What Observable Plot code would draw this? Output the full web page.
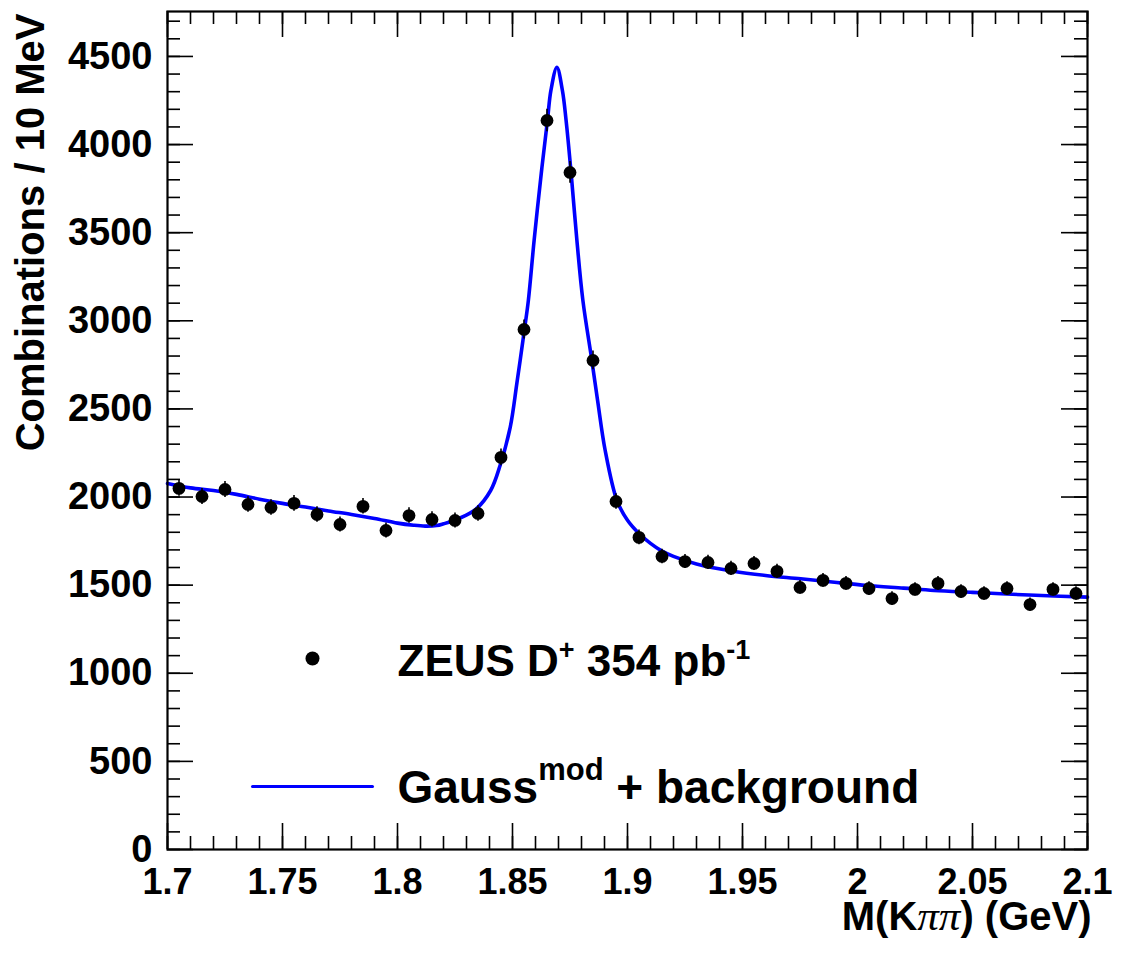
<!DOCTYPE html>
<html>
<head>
<meta charset="utf-8">
<script src="https://cdn.jsdelivr.net/npm/d3@7"></script>
<script src="https://cdn.jsdelivr.net/npm/@observablehq/plot@0.6"></script>
<style>
  html, body { margin: 0; padding: 0; background: #fff; }
  #chart { width: 1126px; height: 960px; }
</style>
</head>
<body>
<div id="chart"></div>
<script>
// ---- data ----
const binCenters = [1.705, 1.715, 1.725, 1.735, 1.745, 1.755, 1.765, 1.775, 1.785, 1.795,
                    1.805, 1.815, 1.825, 1.835, 1.845, 1.855, 1.865, 1.875, 1.885, 1.895,
                    1.905, 1.915, 1.925, 1.935, 1.945, 1.955, 1.965, 1.975, 1.985, 1.995,
                    2.005, 2.015, 2.025, 2.035, 2.045, 2.055, 2.065, 2.075, 2.085, 2.095];
const counts = [2049, 2003, 2043, 1958, 1941, 1964, 1901, 1844, 1947, 1810,
                1895, 1873, 1867, 1907, 2225, 2951, 4137, 3842, 2775, 1975,
                1771, 1663, 1634, 1629, 1595, 1623, 1578, 1487, 1527, 1510,
                1481, 1424, 1476, 1510, 1464, 1453, 1481, 1390, 1476, 1453];
const errors = [45, 45, 45, 44, 44, 44, 44, 43, 44, 43,
                44, 43, 43, 44, 47, 54, 64, 62, 53, 44,
                42, 41, 40, 40, 40, 40, 40, 39, 39, 39,
                38, 38, 38, 39, 38, 38, 38, 37, 38, 38];
const fitMass = [1.700, 1.710, 1.720, 1.730, 1.740, 1.750, 1.760, 1.770, 1.780, 1.790,
                 1.800, 1.807, 1.812, 1.817, 1.820, 1.8267, 1.834, 1.8405, 1.8446, 1.849,
                 1.8519, 1.8552, 1.8569, 1.8594, 1.8625, 1.8652, 1.8667, 1.8693, 1.8717, 1.8733,
                 1.8755, 1.878, 1.8806, 1.8845, 1.887, 1.8903, 1.8954, 1.900, 1.905, 1.910,
                 1.915, 1.920, 1.930, 1.946, 1.960, 1.9753, 1.990, 2.0043, 2.020, 2.0333,
                 2.050, 2.0624, 2.080, 2.100];
const fitCounts = [2077, 2052, 2037, 2015, 1988, 1964, 1943, 1921, 1901, 1878,
                   1852, 1840, 1835, 1838, 1848, 1878, 1930, 2037, 2179, 2395,
                   2645, 2951, 3116, 3456, 3836, 4137, 4307, 4438, 4307, 4137,
                   3836, 3456, 3116, 2775, 2548, 2264, 1981, 1868, 1793, 1737,
                   1693, 1663, 1620, 1579, 1555, 1536, 1516, 1498, 1483, 1470,
                   1459, 1451, 1441, 1432];
const xMajorTicks = [1.7, 1.75, 1.8, 1.85, 1.9, 1.95, 2.0, 2.05, 2.1];
const xTickLabels = ["1.7", "1.75", "1.8", "1.85", "1.9", "1.95", "2", "2.05", "2.1"];
const yMajorTicks = [0, 500, 1000, 1500, 2000, 2500, 3000, 3500, 4000, 4500];
const yTickLabels = ["0", "500", "1000", "1500", "2000", "2500", "3000", "3500", "4000", "4500"];
const xMinorTicks = d3.range(0, 41).map(i => +(1.7 + i * 0.01).toFixed(2));
const yMinorTicks = d3.range(0, 48).map(i => i * 100);
const xTitle = "M(Kππ) (GeV)";
const yTitle = "Combinations / 10 MeV";
const legendData = "ZEUS D+ 354 pb-1";
const legendFit = "Gauss^mod + background";

// ---- table built from the arrays ----
const points = binCenters.map((m, i) => ({m, n: counts[i], e: errors[i]}));
const fit = fitMass.map((m, i) => ({m, n: fitCounts[i]}));

const W = 1126, H = 960, mL = 167, mR = 39, mT = 11, mB = 111;
const fw = W - mL - mR, fh = H - mT - mB;
const majLen = 26, minLen = 13;
const xLab = i => xTickLabels[xMajorTicks.indexOf(i)];
const yLab = i => yTickLabels[yMajorTicks.indexOf(i)];
const lineShape = {draw(ctx, l) { ctx.moveTo(0, 0); ctx.lineTo(0, -l); }};

const chart = Plot.plot({
  width: W, height: H,
  marginLeft: mL, marginRight: mR, marginTop: mT, marginBottom: mB,
  x: {domain: [1.7, 2.1]},
  y: {domain: [0, 4755]},
  style: {fontFamily: "'Liberation Sans', Arial, Helvetica, sans-serif", fontWeight: "bold", background: "white", color: "black"},
  marks: [
    // ticks, inside the frame on all four sides
    Plot.tickX(xMinorTicks, {x: d => d, insetTop: fh - minLen, strokeWidth: 1.6}),
    Plot.tickX(xMajorTicks, {x: d => d, insetTop: fh - majLen, strokeWidth: 1.6}),
    Plot.tickX(xMinorTicks, {x: d => d, insetBottom: fh - minLen, strokeWidth: 1.6}),
    Plot.tickX(xMajorTicks, {x: d => d, insetBottom: fh - majLen, strokeWidth: 1.6}),
    Plot.tickY(yMinorTicks, {y: d => d, insetRight: fw - minLen, strokeWidth: 1.6}),
    Plot.tickY(yMajorTicks, {y: d => d, insetRight: fw - majLen, strokeWidth: 1.6}),
    Plot.tickY(yMinorTicks, {y: d => d, insetLeft: fw - minLen, strokeWidth: 1.6}),
    Plot.tickY(yMajorTicks, {y: d => d, insetLeft: fw - majLen, strokeWidth: 1.6}),
    // tick labels
    Plot.axisX(xMajorTicks, {anchor: "bottom", tickSize: 0, tickPadding: 19, fontSize: 36, tickFormat: xLab, label: null}),
    Plot.axisY(yMajorTicks, {anchor: "left", tickSize: 0, tickPadding: 15, fontSize: 38, tickFormat: yLab, label: null}),
    // axis titles
    Plot.text([yTitle], {frameAnchor: "top-left", rotate: -90, textAnchor: "end", lineAnchor: "bottom",
                         dx: -124, dy: 2, fontSize: 40}),
    Plot.text([xTitle], {frameAnchor: "bottom-right", textAnchor: "end", lineAnchor: "bottom",
                         dx: 4, dy: 80, fontSize: 40, ariaLabel: "xtitle"}),
    // fit curve
    Plot.line(fit, {x: "m", y: "n", stroke: "#0000ff", strokeWidth: 3.6, curve: "catmull-rom"}),
    // data with error bars
    Plot.ruleX(points, {x: "m", y1: d => d.n - d.e, y2: d => d.n + d.e, stroke: "black", strokeWidth: 1.6}),
    Plot.dot(points, {x: "m", y: "n", r: 6.4, fill: "black", stroke: "none"}),
    // legend
    Plot.dot([legendData], {frameAnchor: "top-left", dx: 145, dy: 647, r: 7, fill: "black", stroke: "none"}),
    Plot.text([legendData], {frameAnchor: "top-left", dx: 230, dy: 650, textAnchor: "start", lineAnchor: "middle",
                             fontSize: 44, ariaLabel: "legend-data"}),
    Plot.vector([legendFit], {frameAnchor: "top-left", dx: 85, dy: 775, length: 120, rotate: 90, anchor: "start",
                              shape: lineShape, stroke: "#0000ff", strokeWidth: 3}),
    Plot.text([legendFit], {frameAnchor: "top-left", dx: 230, dy: 777, textAnchor: "start", lineAnchor: "middle",
                            fontSize: 46, ariaLabel: "legend-fit"}),
    Plot.frame({stroke: "black", strokeWidth: 2.2})
  ]
});
document.getElementById("chart").appendChild(chart);

// ---- rich text (superscripts, greek) ----
const svg = d3.select(chart);
function rich(label, plain, parts) {
  let t = svg.selectAll("text").filter(function() {
    return this.getAttribute("aria-label") === label || this.textContent === plain;
  });
  if (t.empty()) t = svg.select(`g[aria-label="${label}"] text`);
  t = d3.select(t.node());
  t.text(null);
  parts.forEach(p => {
    const s = t.append("tspan").text(p.text);
    if (p.size) s.attr("font-size", p.size);
    if (p.dy) s.attr("dy", p.dy);
    if (p.dx) s.attr("dx", p.dx);
    if (p.family) s.attr("font-family", p.family);
    if (p.style) s.attr("font-style", p.style);
    if (p.weight) s.attr("font-weight", p.weight);
  });
}
rich("legend-data", legendData, [
  {text: "ZEUS D"},
  {text: "+", size: 27, dy: -17},
  {text: " 354 pb", dy: 17},
  {text: "-1", size: 27, dy: -17}
]);
rich("legend-fit", legendFit, [
  {text: "Gauss"},
  {text: "mod", size: 31, dy: -23},
  {text: " + background", dy: 23}
]);
rich("xtitle", xTitle, [
  {text: "M(K"},
  {text: "ππ", size: 43, family: "'Liberation Serif', 'DejaVu Serif', serif", style: "italic", weight: "normal"},
  {text: ") (GeV)"}
]);
</script>
</body>
</html>
